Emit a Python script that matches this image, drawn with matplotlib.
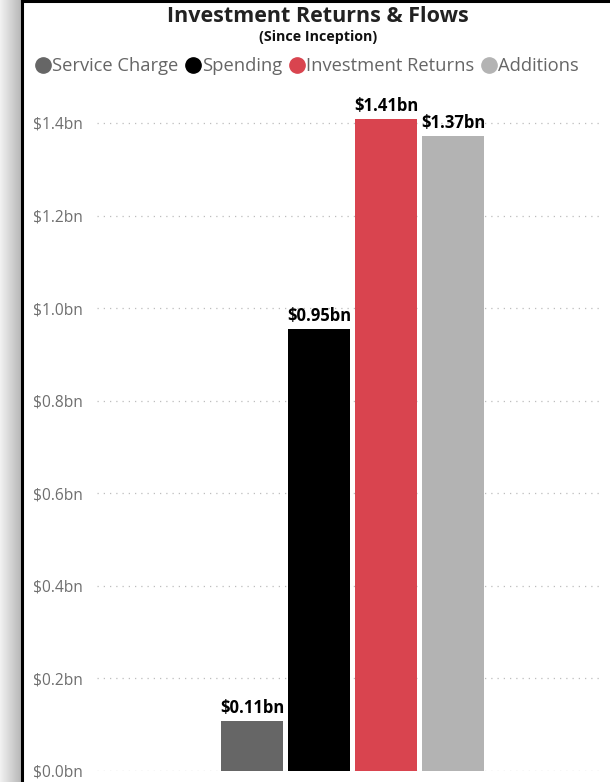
import matplotlib
matplotlib.use("Agg")
import matplotlib.pyplot as plt
import numpy as np
from matplotlib.lines import Line2D

categories = ["Service Charge", "Spending", "Investment Returns", "Additions"]
values = [0.108, 0.955, 1.408, 1.371]
labels = ["$0.11bn", "$0.95bn", "$1.41bn", "$1.37bn"]
colors = ["#666666", "#000000", "#d9444f", "#b3b3b3"]
yticks = [0.0, 0.2, 0.4, 0.6, 0.8, 1.0, 1.2, 1.4]
yticklabels = ["$0.0bn", "$0.2bn", "$0.4bn", "$0.6bn", "$0.8bn", "$1.0bn", "$1.2bn", "$1.4bn"]

plt.rcParams['font.family'] = ['Open Sans', 'DejaVu Sans']

W, H = 610, 782
fig = plt.figure(figsize=(W / 100, H / 100), dpi=100)
fig.patch.set_facecolor("white")

# left grey gradient strip
gax = fig.add_axes([0, 0, 21 / W, 1])
grad = np.linspace(0.95, 0.72, 64).reshape(1, -1)
gax.imshow(np.dstack([grad, grad, grad]), aspect="auto", extent=[0, 1, 0, 1])
gax.axis("off")
# frame lines
fig.add_artist(Line2D([22 / W, 22 / W], [0, 1], color="black", lw=2.2, transform=fig.transFigure))
fig.add_artist(Line2D([22 / W, 1], [1 - 1 / H, 1 - 1 / H], color="black", lw=2.2, transform=fig.transFigure))

ax_left, ax_right = 97, 600
ax_bottom, ax_top = 771, 95
ax = fig.add_axes([ax_left / W, 1 - ax_bottom / H, (ax_right - ax_left) / W, (ax_bottom - ax_top) / H])
x = np.arange(len(categories))
step = 67.0
x0 = 252.0
ax.set_xlim((ax_left - x0) / step, (ax_right - x0) / step)
ppu = (771 - 123) / 1.4
ax.set_ylim(0, (ax_bottom - ax_top) / ppu)

bars = ax.bar(x, values, width=62 / step, color=colors, zorder=3)
for xi, v, lab in zip(x, values, labels):
    ax.text(xi, v + 8 / ppu, lab, ha="center", va="baseline", fontsize=12,
            fontweight="bold", color="black", zorder=4)

ax.set_yticks(yticks)
ax.set_yticklabels(yticklabels, color="#6f6f6f", fontsize=11.2)
ax.set_xticks([])
ax.grid(axis="y", linestyle=(0, (1, 4)), color="#bdbdbd", linewidth=0.9, zorder=0)
for s in ax.spines.values():
    s.set_visible(False)
for lbl in ax.get_yticklabels():
    lbl.set_horizontalalignment("left")
ax.tick_params(axis="y", length=0, pad=(97 - 33) * 0.72)

fig.text(318 / W, 1 - 17 / H, "Investment Returns & Flows", ha="center", va="center",
         fontsize=15.5, fontweight="bold", color="#222222")
fig.text(318 / W, 1 - 37 / H, "(Since Inception)", ha="center", va="center",
         fontsize=10.3, fontweight="bold", color="#111111")

handles = [Line2D([], [], marker="o", linestyle="none", markersize=11,
                  markerfacecolor=c, markeredgecolor=c) for c in colors]
leg = fig.legend(handles, categories, loc="center left", bbox_to_anchor=(26 / W, 1 - 66 / H),
                 ncol=4, frameon=False, fontsize=13.2, handletextpad=0.0, columnspacing=0.3,
                 handlelength=1.0, borderaxespad=0)
for t in leg.get_texts():
    t.set_color("#666666")

fig.savefig("out.png", dpi=100, facecolor="white")
